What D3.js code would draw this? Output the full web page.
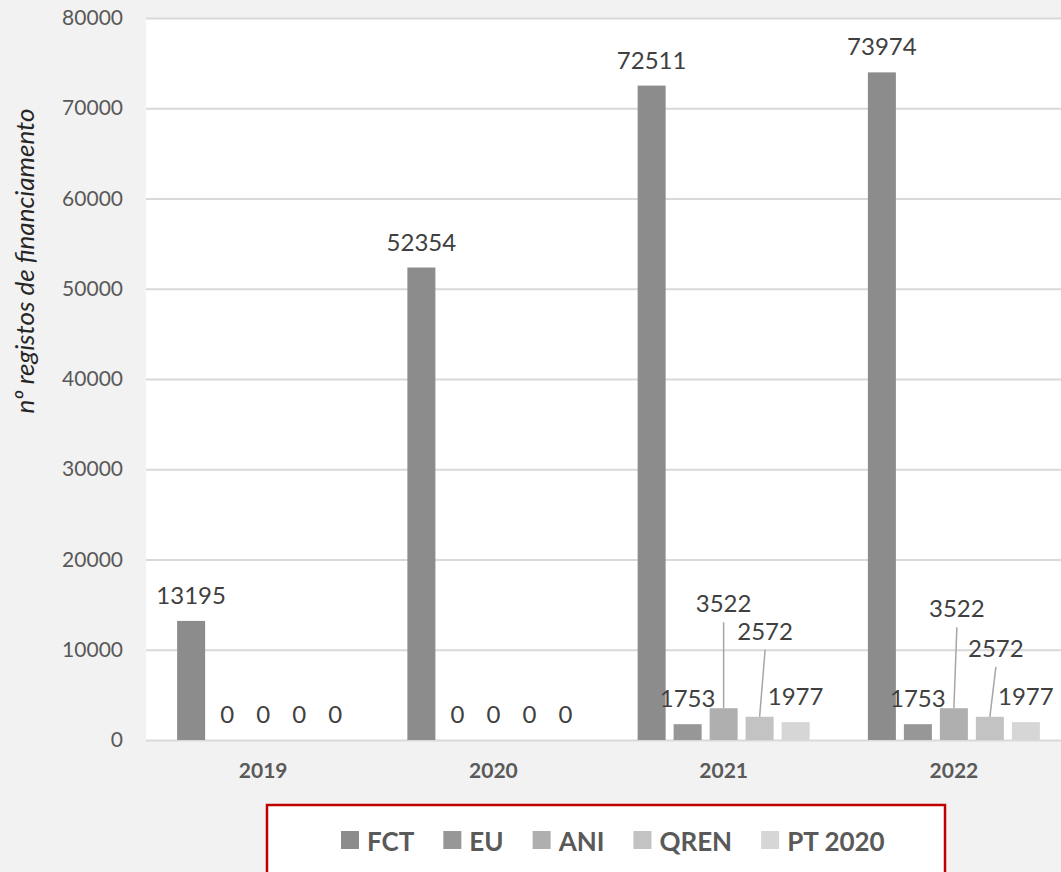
<!DOCTYPE html>
<html>
<head>
<meta charset="utf-8">
<script src="https://cdn.jsdelivr.net/npm/d3@7"></script>
<style>
  body { margin: 0; background: #f2f2f2; }
  svg { display: block; font-family: Lato, "Open Sans", sans-serif; }
</style>
</head>
<body>
<script>
var years = ["2019", "2020", "2021", "2022"];
var seriesNames = ["FCT", "EU", "ANI", "QREN", "PT 2020"];
var fct = [13195, 52354, 72511, 73974];
var eu = [0, 0, 1753, 1753];
var ani = [0, 0, 3522, 3522];
var qren = [0, 0, 2572, 2572];
var pt2020 = [0, 0, 1977, 1977];
var yTicks = [0, 10000, 20000, 30000, 40000, 50000, 60000, 70000, 80000];

var colors = ["#8c8c8c", "#979797", "#afafaf", "#c3c3c3", "#d6d6d6"];
var allValues = [fct, eu, ani, qren, pt2020];

// labels that Excel pulled up with a leader line
var moved = {
  "ANI|2021": [0, -79],
  "ANI|2022": [3, -74],
  "QREN|2021": [5.5, -60],
  "QREN|2022": [6, -43]
};

var width = 1061, height = 872;
var plot = { left: 146, top: 18, bottom: 740 };

var svg = d3.select("body").append("svg")
  .attr("width", width)
  .attr("height", height);

svg.append("rect").attr("width", width).attr("height", height).attr("fill", "#f2f2f2");

var x0 = d3.scaleBand().domain(years).range([148, 1069]);
var x1 = d3.scaleBand().domain(seriesNames).range([0, x0.bandwidth()])
  .paddingInner(0.222).paddingOuter(0.809);
var y = d3.scaleLinear().domain([0, 80000]).range([plot.bottom, plot.top]);

svg.append("rect")
  .attr("x", plot.left).attr("y", plot.top)
  .attr("width", width - plot.left).attr("height", plot.bottom - plot.top)
  .attr("fill", "#fff");

// grid + y axis
var yAxis = svg.append("g")
  .attr("transform", "translate(" + plot.left + ",0)")
  .call(d3.axisLeft(y).tickValues(yTicks).tickSize(-(width - plot.left)).tickPadding(23).tickFormat(d3.format("d")));
yAxis.select(".domain").remove();
yAxis.selectAll(".tick line").attr("stroke", "#d9d9d9").attr("stroke-width", 2);
yAxis.selectAll(".tick text")
  .attr("fill", "#595959").attr("font-size", 21).attr("font-family", "Lato, sans-serif");

// x axis labels
var xAxis = svg.append("g")
  .attr("transform", "translate(0," + plot.bottom + ")")
  .call(d3.axisBottom(x0).tickSize(0).tickPadding(23));
xAxis.select(".domain").remove();
xAxis.selectAll(".tick text")
  .attr("fill", "#595959").attr("font-size", 21).attr("font-weight", "bold")
  .attr("font-family", "Lato, sans-serif");

var rows = [];
seriesNames.forEach(function(s, i) {
  years.forEach(function(yr, j) {
    rows.push({ series: s, year: yr, value: allValues[i][j], color: colors[i] });
  });
});

svg.append("g").selectAll("rect")
  .data(rows)
  .join("rect")
  .attr("x", function(d) { return x0(d.year) + x1(d.series); })
  .attr("y", function(d) { return y(d.value); })
  .attr("width", x1.bandwidth())
  .attr("height", function(d) { return y(0) - y(d.value); })
  .attr("fill", function(d) { return d.color; });

var labels = svg.append("g");
rows.forEach(function(d) {
  var cx = x0(d.year) + x1(d.series) + x1.bandwidth() / 2;
  var top = y(d.value);
  var off = moved[d.series + "|" + d.year] || [0, 0];
  var lx = cx + off[0], ly = top - 17 + off[1];
  if (moved[d.series + "|" + d.year]) {
    labels.append("line")
      .attr("x1", lx).attr("y1", ly + 10)
      .attr("x2", cx).attr("y2", top)
      .attr("stroke", "#a6a6a6").attr("stroke-width", 1.5);
  }
  labels.append("text")
    .attr("x", lx).attr("y", ly)
    .attr("text-anchor", "middle")
    .attr("font-size", 24)
    .attr("fill", "#404040")
    .text(d.value);
});

// y title
svg.append("text")
  .attr("transform", "translate(34,261) rotate(-90)")
  .attr("text-anchor", "middle")
  .attr("font-size", 26)
  .attr("font-style", "italic")
  .attr("fill", "#262626")
  .text("nº registos de financiamento");

// legend
var legend = svg.append("g");
legend.append("rect")
  .attr("x", 267).attr("y", 805).attr("width", 678).attr("height", 90)
  .attr("fill", "#fff").attr("stroke", "#c00000").attr("stroke-width", 2.5);

var lx = 341;
seriesNames.forEach(function(s, i) {
  legend.append("rect")
    .attr("x", lx).attr("y", 831).attr("width", 18).attr("height", 18)
    .attr("fill", colors[i]);
  var t = legend.append("text")
    .attr("x", lx + 26).attr("y", 851)
    .attr("font-size", 26).attr("font-weight", "bold")
    .attr("fill", "#595959")
    .text(s);
  lx += 26 + t.node().getComputedTextLength() + 29;
});
</script>
</body>
</html>
